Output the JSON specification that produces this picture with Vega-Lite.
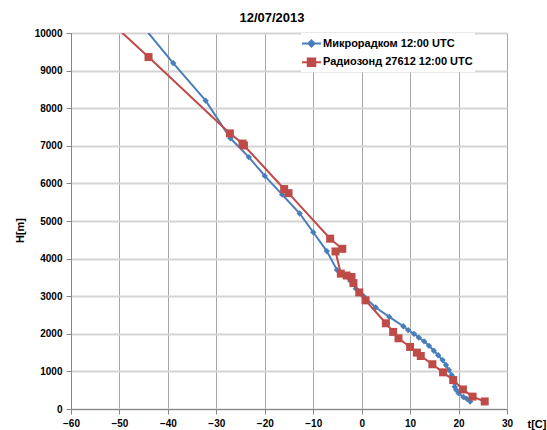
{
  "$schema": "https://vega.github.io/schema/vega-lite/v6.json",
  "autosize": {"type": "none"},
  "width": 436,
  "height": 376,
  "padding": {"left": 71, "top": 33, "right": 40, "bottom": 21},
  "background": "white",
  "title": {"text": "12/07/2013", "font": "Liberation Sans", "fontSize": 13, "fontWeight": "bold", "color": "black", "anchor": "middle", "frame": "group", "offset": 3, "dx": -17},
  "config": {
    "view": {"stroke": null},
    "font": "Liberation Sans"
  },
  "datasets": {
    "profiles": [
      {"s": "Микрорадком 12:00 UTC", "t": -48.5, "H": 10700},
      {"s": "Микрорадком 12:00 UTC", "t": -38.9, "H": 9200},
      {"s": "Микрорадком 12:00 UTC", "t": -32.2, "H": 8200},
      {"s": "Микрорадком 12:00 UTC", "t": -27.1, "H": 7200},
      {"s": "Микрорадком 12:00 UTC", "t": -23.3, "H": 6700},
      {"s": "Микрорадком 12:00 UTC", "t": -20.0, "H": 6200},
      {"s": "Микрорадком 12:00 UTC", "t": -16.4, "H": 5700},
      {"s": "Микрорадком 12:00 UTC", "t": -12.8, "H": 5200},
      {"s": "Микрорадком 12:00 UTC", "t": -10.0, "H": 4700},
      {"s": "Микрорадком 12:00 UTC", "t": -7.2, "H": 4200},
      {"s": "Микрорадком 12:00 UTC", "t": -5.1, "H": 3700},
      {"s": "Микрорадком 12:00 UTC", "t": -3.6, "H": 3550},
      {"s": "Микрорадком 12:00 UTC", "t": -2.3, "H": 3400},
      {"s": "Микрорадком 12:00 UTC", "t": -1.2, "H": 3200},
      {"s": "Микрорадком 12:00 UTC", "t": 0.4, "H": 3000},
      {"s": "Микрорадком 12:00 UTC", "t": 2.9, "H": 2700},
      {"s": "Микрорадком 12:00 UTC", "t": 5.7, "H": 2450},
      {"s": "Микрорадком 12:00 UTC", "t": 8.6, "H": 2200},
      {"s": "Микрорадком 12:00 UTC", "t": 9.6, "H": 2100},
      {"s": "Микрорадком 12:00 UTC", "t": 10.8, "H": 2000},
      {"s": "Микрорадком 12:00 UTC", "t": 11.8, "H": 1900},
      {"s": "Микрорадком 12:00 UTC", "t": 12.9, "H": 1800},
      {"s": "Микрорадком 12:00 UTC", "t": 13.9, "H": 1680},
      {"s": "Микрорадком 12:00 UTC", "t": 14.9, "H": 1550},
      {"s": "Микрорадком 12:00 UTC", "t": 15.8, "H": 1430},
      {"s": "Микрорадком 12:00 UTC", "t": 16.7, "H": 1300},
      {"s": "Микрорадком 12:00 UTC", "t": 17.4, "H": 1170},
      {"s": "Микрорадком 12:00 UTC", "t": 18.0, "H": 1040},
      {"s": "Микрорадком 12:00 UTC", "t": 18.6, "H": 900},
      {"s": "Микрорадком 12:00 UTC", "t": 19.0, "H": 790},
      {"s": "Микрорадком 12:00 UTC", "t": 19.2, "H": 690},
      {"s": "Микрорадком 12:00 UTC", "t": 19.2, "H": 590},
      {"s": "Микрорадком 12:00 UTC", "t": 19.5, "H": 510},
      {"s": "Микрорадком 12:00 UTC", "t": 20.0, "H": 420},
      {"s": "Микрорадком 12:00 UTC", "t": 21.0, "H": 320},
      {"s": "Микрорадком 12:00 UTC", "t": 21.7, "H": 270},
      {"s": "Микрорадком 12:00 UTC", "t": 22.4, "H": 200},
      {"s": "Радиозонд 27612 12:00 UTC", "t": -53.6, "H": 10500},
      {"s": "Радиозонд 27612 12:00 UTC", "t": -44.0, "H": 9360},
      {"s": "Радиозонд 27612 12:00 UTC", "t": -27.2, "H": 7330},
      {"s": "Радиозонд 27612 12:00 UTC", "t": -24.6, "H": 7060},
      {"s": "Радиозонд 27612 12:00 UTC", "t": -24.3, "H": 7010},
      {"s": "Радиозонд 27612 12:00 UTC", "t": -16.0, "H": 5850},
      {"s": "Радиозонд 27612 12:00 UTC", "t": -15.1, "H": 5740},
      {"s": "Радиозонд 27612 12:00 UTC", "t": -6.5, "H": 4530},
      {"s": "Радиозонд 27612 12:00 UTC", "t": -4.0, "H": 4260},
      {"s": "Радиозонд 27612 12:00 UTC", "t": -5.4, "H": 4190},
      {"s": "Радиозонд 27612 12:00 UTC", "t": -4.3, "H": 3600},
      {"s": "Радиозонд 27612 12:00 UTC", "t": -3.1, "H": 3550},
      {"s": "Радиозонд 27612 12:00 UTC", "t": -2.1, "H": 3510},
      {"s": "Радиозонд 27612 12:00 UTC", "t": -1.7, "H": 3350},
      {"s": "Радиозонд 27612 12:00 UTC", "t": -0.5, "H": 3100},
      {"s": "Радиозонд 27612 12:00 UTC", "t": 0.8, "H": 2890},
      {"s": "Радиозонд 27612 12:00 UTC", "t": 5.0, "H": 2280},
      {"s": "Радиозонд 27612 12:00 UTC", "t": 6.5, "H": 2050},
      {"s": "Радиозонд 27612 12:00 UTC", "t": 7.6, "H": 1880},
      {"s": "Радиозонд 27612 12:00 UTC", "t": 10.0, "H": 1650},
      {"s": "Радиозонд 27612 12:00 UTC", "t": 11.4, "H": 1500},
      {"s": "Радиозонд 27612 12:00 UTC", "t": 12.2, "H": 1410},
      {"s": "Радиозонд 27612 12:00 UTC", "t": 14.6, "H": 1190},
      {"s": "Радиозонд 27612 12:00 UTC", "t": 16.8, "H": 975},
      {"s": "Радиозонд 27612 12:00 UTC", "t": 18.9, "H": 770},
      {"s": "Радиозонд 27612 12:00 UTC", "t": 20.9, "H": 520},
      {"s": "Радиозонд 27612 12:00 UTC", "t": 22.9, "H": 330},
      {"s": "Радиозонд 27612 12:00 UTC", "t": 25.4, "H": 200}
    ]
  },
  "data": {"name": "profiles"},
  "encoding": {
    "x": {
      "field": "t", "type": "quantitative",
      "scale": {"domain": [-60, 30], "nice": false, "zero": false},
      "axis": {
        "title": "t[C]", "titleX": 456, "titleY": 18, "titleAlign": "left", "titleBaseline": "alphabetic", "titleAnchor": null,
        "titleFont": "Liberation Sans", "titleFontSize": 11, "titleFontWeight": "bold", "titleColor": "black",
        "values": [-60, -50, -40, -30, -20, -10, 0, 10, 20, 30],
        "labelFont": "Liberation Sans", "labelFontSize": 10, "labelFontWeight": "bold", "labelColor": "black",
        "labelPadding": 4, "tickSize": 5, "tickColor": "#868686", "domainColor": "#868686",
        "grid": true, "gridColor": "#a6a6a6", "gridWidth": 1, "labelFlush": false, "labelOverlap": false
      }
    },
    "y": {
      "field": "H", "type": "quantitative",
      "scale": {"domain": [0, 10000], "nice": false},
      "axis": {
        "title": "H[m]", "titleX": -51, "titleY": 197, "titleAlign": "center", "titleBaseline": "middle", "titleAngle": -90,
        "titleFont": "Liberation Sans", "titleFontSize": 11, "titleFontWeight": "bold", "titleColor": "black",
        "values": [0, 1000, 2000, 3000, 4000, 5000, 6000, 7000, 8000, 9000, 10000],
        "format": "d",
        "labelFont": "Liberation Sans", "labelFontSize": 10, "labelFontWeight": "bold", "labelColor": "black",
        "labelPadding": 4, "tickSize": 5, "tickColor": "#868686", "domainColor": "#868686",
        "grid": true, "gridColor": "#d4d4d4", "gridWidth": 2, "labelFlush": false, "labelOverlap": false
      }
    }
  },
  "layer": [
    {
      "transform": [{"filter": "datum.s === 'Микрорадком 12:00 UTC'"}],
      "mark": {"type": "line", "strokeWidth": 2, "clip": true},
      "encoding": {
        "order": {"field": "H", "type": "quantitative"},
        "color": {
          "field": "s", "type": "nominal",
          "scale": {"domain": ["Микрорадком 12:00 UTC", "Радиозонд 27612 12:00 UTC"], "range": ["#4a7ebb", "#be4b48"]},
          "legend": {
            "title": null, "orient": "none", "legendX": 230, "legendY": 0,
            "fillColor": "white", "padding": 2, "rowPadding": 2.7,
            "symbolSize": 225, "labelOffset": 3,
            "labelFont": "Liberation Sans", "labelFontSize": 11, "labelFontWeight": "bold", "labelColor": "black", "labelLimit": 300,
            "encode": {
              "symbols": {
                "update": {
                  "shape": {"signal": "datum.value === 'Микрорадком 12:00 UTC' ? 'M-1.27,0L1.27,0M0,-0.42L0.42,0L0,0.42L-0.42,0Z' : 'M-1.27,0L1.27,0M-0.5,-0.5L0.5,-0.5L0.5,0.5L-0.5,0.5Z'"},
                  "fill": {"signal": "scale('color', datum.value)"},
                  "stroke": {"signal": "scale('color', datum.value)"},
                  "strokeWidth": {"value": 2},
                  "opacity": {"value": 1}
                }
              }
            }
          }
        }
      }
    },
    {
      "transform": [{"filter": "datum.s === 'Микрорадком 12:00 UTC'"}],
      "mark": {"type": "point", "shape": "diamond", "filled": true, "size": 40, "color": "#4a7ebb", "opacity": 1, "clip": true}
    },
    {
      "transform": [{"filter": "datum.s === 'Радиозонд 27612 12:00 UTC'"}],
      "mark": {"type": "line", "strokeWidth": 2, "clip": true},
      "encoding": {
        "order": {"field": "H", "type": "quantitative"},
        "color": {"field": "s", "type": "nominal"}
      }
    },
    {
      "transform": [{"filter": "datum.s === 'Радиозонд 27612 12:00 UTC'"}],
      "mark": {"type": "point", "shape": "square", "filled": true, "size": 64, "color": "#be4b48", "opacity": 1, "clip": true}
    }
  ]
}
